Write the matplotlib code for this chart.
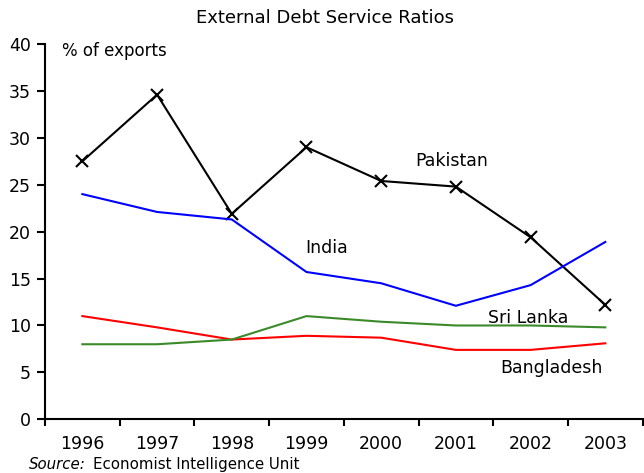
import matplotlib
matplotlib.use("Agg")
import matplotlib.pyplot as plt

years = ["1996", "1997", "1998", "1999", "2000", "2001", "2002", "2003"]
pakistan = [27.5, 34.6, 21.9, 29.0, 25.4, 24.8, 19.4, 12.2]
india = [24.0, 22.1, 21.3, 15.7, 14.5, 12.1, 14.3, 18.9]
bangladesh = [11.0, 9.8, 8.5, 8.9, 8.7, 7.4, 7.4, 8.1]
sri_lanka = [8.0, 8.0, 8.5, 11.0, 10.4, 10.0, 10.0, 9.8]
yticks = [0, 5, 10, 15, 20, 25, 30, 35, 40]

plt.rcParams['font.family'] = ['DejaVu Sans']
fig = plt.figure(figsize=(6.44, 4.73), dpi=100)
ax = fig.add_axes([0.0699, 0.1135, 0.928, 0.7935])

x = list(range(len(years)))
ax.plot(x, pakistan, color='black', lw=1.5, marker='x', markersize=9, markeredgewidth=1.5)
ax.plot(x, india, color='#0000FF', lw=1.5)
ax.plot(x, bangladesh, color='#FF0000', lw=1.5)
ax.plot(x, sri_lanka, color='#3a8a2a', lw=1.5)

tfs = 12.5
ax.set_xlim(-0.5, len(years) - 0.5)
ax.set_ylim(0, 40)
ax.set_yticks(yticks)
ax.set_yticklabels([str(v) for v in yticks], fontsize=tfs)
ax.set_xticks([i - 0.5 for i in range(len(years) + 1)])
ax.set_xticklabels([])
ax.set_xticks(x, minor=True)
ax.set_xticklabels(years, minor=True, fontsize=tfs)
ax.tick_params(axis='x', which='minor', length=0, pad=11)
ax.tick_params(axis='x', which='major', length=5, width=1.5, direction='out')
ax.tick_params(axis='y', length=6, width=1.5, direction='out', pad=4)
for s in ['top', 'right']:
    ax.spines[s].set_visible(False)
for s in ['left', 'bottom']:
    ax.spines[s].set_linewidth(1.5)

fs = 12.5
ax.text(-0.27, 39.2, "% of exports", fontsize=12, va='center', ha='left')
ax.text(4.46, 27.5, "Pakistan", fontsize=fs, va='center', ha='left')
ax.text(2.98, 18.3, "India", fontsize=fs, va='center', ha='left')
ax.text(5.43, 10.8, "Sri Lanka", fontsize=fs, va='center', ha='left')
ax.text(5.59, 5.5, "Bangladesh", fontsize=fs, va='center', ha='left')

fig.text(0.505, 0.962, "External Debt Service Ratios", fontsize=13, ha='center', va='center')
fig.text(0.045, 0.019, "Source:", fontsize=10.8, style='italic', ha='left', va='center')
fig.text(0.144, 0.019, "Economist Intelligence Unit", fontsize=10.8, ha='left', va='center')

fig.savefig("out.png", dpi=100)
